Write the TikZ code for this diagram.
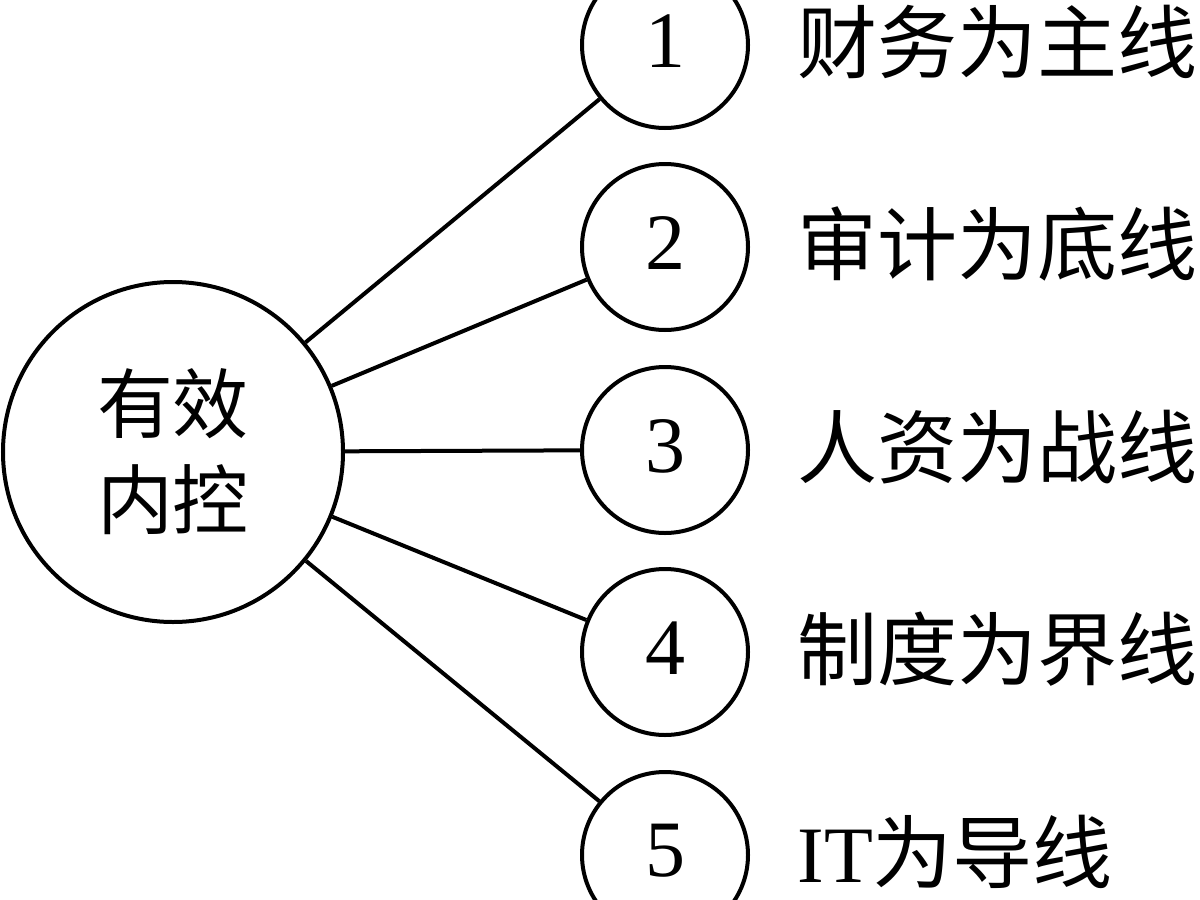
\documentclass[tikz,border=0pt]{standalone}
\usepackage{fontspec}
\setmainfont{Liberation Serif}
\newfontfamily\cjk{Noto Sans CJK SC}
\begin{document}
\begin{tikzpicture}[x=0.5pt,y=-0.5pt,
  bigc/.style={circle,draw,line width=2pt,inner sep=0pt,minimum size=170pt,
    font=\cjk\fontsize{38pt}{48pt}\selectfont,align=center},
  smallc/.style={circle,draw,line width=2pt,inner sep=0pt,minimum size=83pt,
    font=\fontsize{40pt}{48pt}\selectfont},
  digit/.style={inner sep=0pt,font=\fontsize{40pt}{48pt}\selectfont},
  lab/.style={anchor=west,inner sep=0pt,font=\cjk\fontsize{40pt}{48pt}\selectfont},
  conn/.style={line width=2pt}]
\useasboundingbox (0,0) rectangle (1200,900);
\node[bigc] (m) at (173,452) {有效\\内控};
\foreach \i/\y in {1/45,2/247,3/450,4/652,5/855}{
  \node[smallc] (c\i) at (665,\y) {};
  \node[digit,yshift=2pt] (d\i) at (c\i.center) {\i};
}
\node[lab,yshift=1.5pt] (t1) at (797,45) {财务为主线};
\node[lab,yshift=1.5pt] (t2) at (797,247) {审计为底线};
\node[lab,yshift=1.5pt] (t3) at (797,450) {人资为战线};
\node[lab,yshift=1.5pt] (t4) at (797,652) {制度为界线};
\node[lab,yshift=1.5pt] (t5) at (797,855) {{\rmfamily IT}为导线};
\foreach \i in {1,...,5} \draw[conn] (m) -- (c\i);
\end{tikzpicture}
\end{document}
